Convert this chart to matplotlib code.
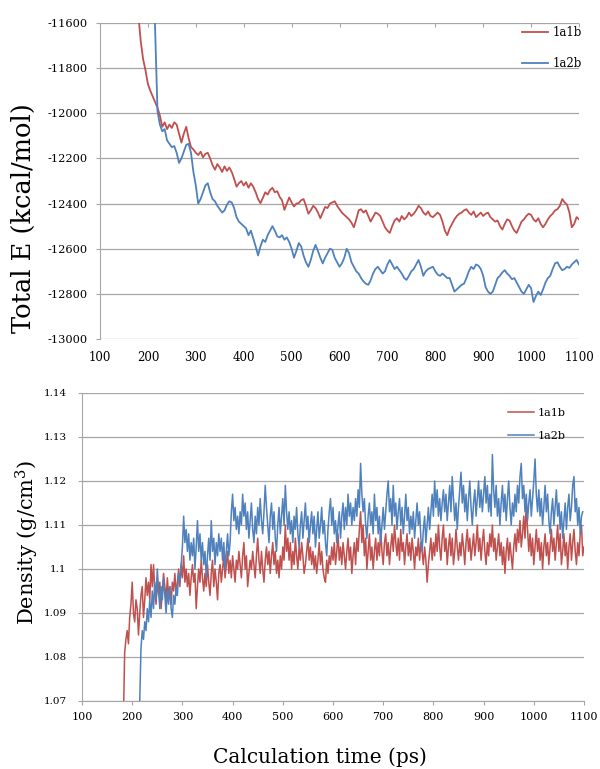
import matplotlib
matplotlib.use('Agg')
import matplotlib.pyplot as plt
import numpy as np

plt.rcParams['font.family'] = 'DejaVu Serif'
plt.rcParams['mathtext.fontset'] = 'dejavuserif'
plt.rcParams['axes.unicode_minus'] = False

labels = ['1a1b', '1a2b']
colors = ['#C0504D', '#4F81BD']

# Total energy (kcal/mol), every 5 ps
e_step = 5
e_1a1b_start = 175
e_1a1b = [
    -11400, -11560, -11680, -11760, -11810, -11870, -11900, -11925, -11950, -11975,
    -12010, -12060, -12040, -12070, -12050, -12065, -12040, -12050, -12090, -12130,
    -12090, -12060, -12110, -12150, -12160, -12175, -12185, -12170, -12195, -12180,
    -12175, -12200, -12230, -12250, -12225, -12240, -12260, -12235, -12255, -12240,
    -12260, -12290, -12325, -12310, -12300, -12320, -12305, -12330, -12310, -12326,
    -12350, -12380, -12398, -12375, -12350, -12360, -12340, -12330, -12350, -12345,
    -12370, -12385, -12428, -12400, -12373, -12395, -12413, -12400, -12398, -12385,
    -12380, -12410, -12445, -12430, -12410, -12420, -12440, -12465, -12440, -12415,
    -12420, -12400, -12395, -12390, -12410, -12425, -12440, -12450, -12460, -12470,
    -12485, -12505, -12470, -12430, -12425, -12440, -12430, -12455, -12480, -12460,
    -12440, -12445, -12455, -12480, -12505, -12520, -12530, -12500, -12475, -12465,
    -12480, -12455, -12470, -12460, -12440, -12455, -12445, -12430, -12410, -12420,
    -12440, -12450, -12435, -12455, -12460, -12450, -12440, -12450, -12480, -12520,
    -12540, -12510, -12490, -12470, -12455, -12445, -12440, -12430, -12425, -12440,
    -12450, -12435, -12460, -12450, -12440, -12455, -12445, -12440, -12460, -12470,
    -12480, -12475, -12500, -12515, -12490, -12470, -12475, -12500, -12520, -12530,
    -12505, -12480, -12470, -12455, -12445, -12450, -12470, -12480, -12465, -12490,
    -12505, -12490, -12470, -12455, -12445, -12430, -12425, -12410, -12380, -12395,
    -12405, -12440, -12505, -12490, -12460, -12470,
]
e_1a2b_start = 210
e_1a2b = [
    -11300, -11620, -11990, -12050, -12080, -12070, -12120, -12135, -12150, -12145,
    -12175, -12220, -12200, -12170, -12140, -12135, -12175, -12260, -12320, -12400,
    -12380, -12350, -12320, -12310, -12350, -12380, -12390, -12410, -12425, -12440,
    -12430, -12405, -12390, -12395, -12420, -12460, -12480, -12490, -12500, -12510,
    -12540, -12520, -12555, -12590, -12630, -12590, -12560, -12570, -12540, -12520,
    -12500, -12520, -12545, -12550, -12540, -12560, -12550, -12570, -12600, -12640,
    -12610, -12575, -12590, -12630, -12660, -12680, -12650, -12610, -12583, -12610,
    -12640, -12665, -12640, -12620, -12600, -12605, -12640, -12660, -12680, -12665,
    -12640, -12600, -12620, -12660, -12680, -12700, -12710, -12730, -12745, -12755,
    -12760, -12740, -12710, -12690, -12680, -12695, -12710, -12700, -12670, -12650,
    -12670, -12690, -12680, -12695, -12710, -12730, -12738, -12720, -12700, -12690,
    -12670, -12650, -12680, -12720, -12700, -12690, -12685, -12680, -12700, -12715,
    -12720, -12710, -12720, -12730, -12730, -12760, -12790, -12780, -12770, -12760,
    -12755, -12730, -12700, -12680, -12690, -12670, -12675, -12690, -12720, -12770,
    -12790, -12800, -12790, -12760, -12730, -12720, -12705, -12695, -12710, -12720,
    -12735, -12730, -12750, -12770, -12790, -12800, -12780, -12760, -12775, -12836,
    -12810, -12790, -12805, -12780, -12750, -12730, -12720, -12690, -12665, -12660,
    -12680, -12695, -12690, -12680, -12685, -12670, -12660, -12650, -12670,
]

# Density (g/cm3), every 2.5 ps
d_step = 2.5
d_1a1b_start = 180
d_1a1b = [
    1.060, 1.066, 1.081, 1.084, 1.086, 1.083, 1.089, 1.092, 1.097, 1.090,
    1.088, 1.093, 1.091, 1.085, 1.090, 1.094, 1.096, 1.089, 1.093, 1.098,
    1.094, 1.097, 1.093, 1.101, 1.096, 1.101, 1.095, 1.092, 1.098, 1.094,
    1.097, 1.091, 1.095, 1.099, 1.096, 1.093, 1.098, 1.094, 1.096, 1.092,
    1.097, 1.095, 1.099, 1.094, 1.097, 1.100, 1.096, 1.101, 1.098, 1.103,
    1.097, 1.100, 1.096, 1.099, 1.094, 1.098, 1.101, 1.097, 1.099, 1.091,
    1.096, 1.100, 1.097, 1.102, 1.098, 1.095, 1.099, 1.096, 1.101, 1.097,
    1.094, 1.099, 1.102, 1.096, 1.100, 1.097, 1.093, 1.099, 1.101, 1.097,
    1.100, 1.103, 1.098, 1.101, 1.104, 1.099, 1.102, 1.098, 1.103, 1.100,
    1.097, 1.102, 1.100, 1.104, 1.101, 1.098, 1.103, 1.106, 1.100, 1.103,
    1.096, 1.099, 1.102, 1.100, 1.104, 1.101, 1.098, 1.103, 1.107, 1.102,
    1.099, 1.104, 1.100, 1.097, 1.102, 1.105, 1.101, 1.104, 1.099, 1.103,
    1.106, 1.101, 1.104, 1.099, 1.102, 1.098, 1.103, 1.100, 1.105, 1.102,
    1.110, 1.104, 1.107, 1.102, 1.106, 1.100, 1.104, 1.101, 1.107, 1.103,
    1.100, 1.105, 1.102, 1.106, 1.103, 1.099, 1.101, 1.104, 1.107, 1.102,
    1.105, 1.101, 1.104, 1.100, 1.103, 1.099, 1.102, 1.106, 1.101, 1.104,
    1.100, 1.098, 1.097, 1.102, 1.099, 1.103, 1.101, 1.105, 1.102, 1.106,
    1.101, 1.104, 1.108, 1.102, 1.105, 1.101, 1.106, 1.103, 1.100, 1.104,
    1.107, 1.102, 1.105, 1.099, 1.103, 1.106, 1.101, 1.107, 1.104, 1.109,
    1.113, 1.106, 1.110, 1.103, 1.107, 1.100, 1.104, 1.108, 1.102, 1.105,
    1.100, 1.104, 1.107, 1.102, 1.106, 1.103, 1.109, 1.104, 1.101, 1.106,
    1.108, 1.103, 1.106, 1.101, 1.105, 1.108, 1.104, 1.110, 1.106, 1.103,
    1.107, 1.102, 1.109, 1.104, 1.106, 1.101, 1.105, 1.108, 1.103, 1.106,
    1.102, 1.107, 1.104, 1.100, 1.105, 1.103, 1.107, 1.102, 1.106, 1.104,
    1.101, 1.105, 1.102, 1.097, 1.101, 1.104, 1.107, 1.102, 1.106, 1.103,
    1.108, 1.104, 1.110, 1.105, 1.102, 1.107, 1.110, 1.104, 1.107, 1.101,
    1.105, 1.108, 1.103, 1.107, 1.101, 1.104, 1.109, 1.105, 1.102, 1.106,
    1.103, 1.108, 1.105, 1.101, 1.106, 1.109, 1.104, 1.107, 1.102, 1.105,
    1.108, 1.103, 1.106, 1.110, 1.104, 1.107, 1.102, 1.106, 1.109, 1.104,
    1.101, 1.106, 1.103, 1.108, 1.105, 1.110, 1.104, 1.107, 1.102, 1.105,
    1.108, 1.103, 1.106, 1.101, 1.105, 1.099, 1.104, 1.107, 1.102, 1.106,
    1.103, 1.100, 1.105, 1.108, 1.104, 1.109, 1.106, 1.111, 1.105, 1.108,
    1.112, 1.107, 1.115, 1.109, 1.104, 1.108, 1.103, 1.107, 1.101, 1.105,
    1.109, 1.104, 1.107, 1.102, 1.106, 1.100, 1.105, 1.108, 1.103, 1.106,
    1.101, 1.105, 1.109, 1.104, 1.107, 1.102, 1.106, 1.110, 1.104, 1.108,
    1.101, 1.104, 1.108, 1.103, 1.106, 1.100, 1.105, 1.108, 1.102, 1.106,
    1.109, 1.104, 1.101, 1.106, 1.103, 1.108, 1.110, 1.103, 1.105,
]
d_1a2b_start = 210
d_1a2b = [
    1.060, 1.064, 1.070, 1.082, 1.086, 1.084, 1.088, 1.086, 1.091, 1.088,
    1.093, 1.089, 1.095, 1.091, 1.097, 1.093, 1.100, 1.095, 1.091, 1.096,
    1.093, 1.098, 1.094, 1.090, 1.095, 1.092, 1.096, 1.091, 1.089, 1.094,
    1.092, 1.096, 1.094, 1.099, 1.097, 1.101, 1.105, 1.112, 1.106, 1.109,
    1.104, 1.108, 1.102, 1.106, 1.103, 1.107, 1.100, 1.105, 1.111, 1.104,
    1.108, 1.102, 1.106, 1.101, 1.104, 1.098, 1.103, 1.107, 1.102, 1.111,
    1.104, 1.107, 1.101, 1.106, 1.103, 1.108, 1.104, 1.107, 1.102, 1.106,
    1.100, 1.104, 1.108, 1.103, 1.106, 1.113, 1.117, 1.111, 1.114, 1.109,
    1.112, 1.108, 1.113, 1.110, 1.117, 1.112, 1.115, 1.109, 1.113, 1.107,
    1.111, 1.115, 1.109, 1.106, 1.112, 1.108, 1.114, 1.110, 1.116, 1.111,
    1.108, 1.113, 1.119, 1.114, 1.110, 1.106, 1.112, 1.115, 1.109, 1.113,
    1.107, 1.104, 1.110, 1.114, 1.108, 1.112, 1.116, 1.110, 1.119, 1.113,
    1.109, 1.113, 1.108, 1.111, 1.106, 1.112, 1.109, 1.114, 1.108, 1.105,
    1.110, 1.113, 1.107, 1.111, 1.115, 1.109, 1.112, 1.106, 1.110, 1.113,
    1.108, 1.112, 1.105, 1.109, 1.113, 1.107, 1.110, 1.114, 1.108, 1.111,
    1.106, 1.103, 1.109, 1.113, 1.116, 1.110, 1.114, 1.108, 1.111, 1.106,
    1.110, 1.113, 1.107, 1.112, 1.115, 1.109, 1.114, 1.110, 1.117, 1.112,
    1.115, 1.110, 1.114, 1.111, 1.116, 1.112, 1.118, 1.114, 1.124, 1.117,
    1.113, 1.116, 1.110, 1.107, 1.112, 1.115, 1.110, 1.113, 1.108, 1.117,
    1.111, 1.114, 1.108, 1.112, 1.106, 1.110, 1.114, 1.109, 1.113, 1.117,
    1.120, 1.113, 1.116, 1.110, 1.119, 1.112, 1.115, 1.109, 1.113, 1.116,
    1.110, 1.114, 1.108, 1.112, 1.117, 1.111, 1.114, 1.108, 1.112, 1.109,
    1.113, 1.107, 1.111, 1.115, 1.110, 1.113, 1.107, 1.104, 1.109, 1.112,
    1.106, 1.110, 1.114, 1.109, 1.113, 1.117, 1.112, 1.120, 1.114, 1.118,
    1.112, 1.116, 1.111, 1.115, 1.118, 1.113, 1.117, 1.111, 1.115, 1.119,
    1.113, 1.121, 1.116, 1.111, 1.115, 1.109, 1.114, 1.118, 1.122, 1.115,
    1.119, 1.113, 1.117, 1.111, 1.116, 1.120, 1.114, 1.110, 1.115, 1.118,
    1.112, 1.116, 1.120, 1.114, 1.118, 1.113, 1.117, 1.121, 1.115, 1.119,
    1.113, 1.117, 1.112, 1.126, 1.118, 1.114, 1.119, 1.112, 1.116, 1.110,
    1.115, 1.119, 1.113, 1.117, 1.111, 1.116, 1.120, 1.114, 1.110, 1.115,
    1.112, 1.117, 1.113, 1.119, 1.115, 1.121, 1.124, 1.116, 1.119, 1.113,
    1.117, 1.111, 1.115, 1.118, 1.112, 1.116, 1.120, 1.125, 1.117, 1.113,
    1.118, 1.112, 1.116, 1.110, 1.114, 1.119, 1.113, 1.117, 1.111, 1.108,
    1.113, 1.116, 1.110, 1.114, 1.118, 1.112, 1.115, 1.109, 1.113, 1.107,
    1.111, 1.115, 1.109, 1.114, 1.117, 1.111, 1.114, 1.119, 1.121, 1.113,
    1.116, 1.110, 1.114, 1.108, 1.112, 1.113,
]

x_ticks = list(range(100, 1101, 100))
e_ticks = list(range(-11600, -13001, -200))
d_ticks = [1.14, 1.13, 1.12, 1.11, 1.10, 1.09, 1.08, 1.07]
grey = '#A6A6A6'


def times(start, step, vals):
    return start + step * np.arange(len(vals))


def style(ax, bottom_spine):
    for s in ['top', 'right', 'bottom']:
        ax.spines[s].set_visible(False)
    ax.spines['left'].set_color(grey)
    if bottom_spine:
        ax.spines['bottom'].set_visible(True)
        ax.spines['bottom'].set_color(grey)
    ax.grid(axis='y', color=grey, linewidth=0.9)
    ax.set_axisbelow(True)
    ax.tick_params(axis='y', direction='out', length=3, color=grey)
    ax.set_xlim(100, 1100)
    ax.set_xticks(x_ticks)


fig = plt.figure(figsize=(6, 7.69), dpi=100)

ax1 = fig.add_axes([100 / 600, 1 - 339 / 769, 479 / 600, 316 / 769])
ax1.plot(times(e_1a1b_start, e_step, e_1a1b), e_1a1b, color=colors[0], lw=1.3, label=labels[0])
ax1.plot(times(e_1a2b_start, e_step, e_1a2b), e_1a2b, color=colors[1], lw=1.3, label=labels[1])
ax1.set_ylim(-13000, -11600)
ax1.set_yticks(e_ticks)
style(ax1, False)
ax1.tick_params(axis='x', bottom=False, top=True, direction='in', length=3,
                color=grey, labelsize=8.5, pad=9)
ax1.tick_params(axis='y', labelsize=8.2, pad=6)
ax1.legend(loc='upper left', bbox_to_anchor=(522 / 600, 1 - 26 / 769),
           bbox_transform=fig.transFigure, frameon=False, fontsize=8.5,
           handlelength=2.2, handletextpad=0.4, labelspacing=1.5,
           borderpad=0, borderaxespad=0)

ax2 = fig.add_axes([82 / 600, 1 - 701 / 769, 502 / 600, 308 / 769])
ax2.plot(times(d_1a1b_start, d_step, d_1a1b), d_1a1b, color=colors[0], lw=1.1, label=labels[0])
ax2.plot(times(d_1a2b_start, d_step, d_1a2b), d_1a2b, color=colors[1], lw=1.1, label=labels[1])
ax2.set_ylim(1.07, 1.14)
ax2.set_yticks(d_ticks)
ax2.set_yticklabels(['%g' % v for v in d_ticks])
style(ax2, True)
ax2.tick_params(axis='x', direction='out', length=3, color=grey,
                labelsize=8, pad=5)
ax2.tick_params(axis='y', labelsize=7.5, pad=8)
ax2.legend(loc='upper left', bbox_to_anchor=(508 / 600, 1 - 408 / 769),
           bbox_transform=fig.transFigure, frameon=False, fontsize=8,
           handlelength=2.3, handletextpad=0.4, labelspacing=1.15,
           borderpad=0, borderaxespad=0)

fig.text(23 / 600, 1 - 218 / 769, 'Total E (kcal/mol)', rotation=90,
         ha='center', va='center', fontsize=18.5)
fig.text(27 / 600, 1 - 542 / 769, 'Density (g/cm$^3$)', rotation=90,
         ha='center', va='center', fontsize=15)
fig.text(320 / 600, 1 - 767 / 769, 'Calculation time (ps)',
         ha='center', va='bottom', fontsize=14.5)

fig.savefig('out.png', dpi=100)
